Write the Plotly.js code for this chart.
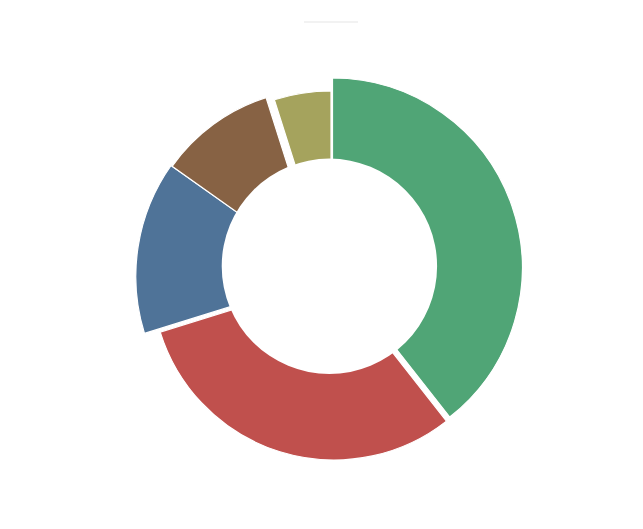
<!DOCTYPE html>
<html>
<head>
<meta charset="utf-8">
<script src="https://cdn.plot.ly/plotly-3.0.1.min.js"></script>
<style>html,body{margin:0;padding:0;background:#fff;}#chart{width:643px;height:529px;}</style>
</head>
<body>
<div id="chart"></div>
<script>
// ---- Data ----
var categories = ['A', 'B', 'C', 'D', 'E'];
var values = [39.4, 30.8, 14.6, 10.3, 4.9];

// ---- Styling (colours, per-slice offset centre and outer radius in px) ----
var colors = ['#50a576', '#c0504d', '#4f7398', '#876244', '#a5a35d'];
var sliceCenterX = [332.5, 334, 327.8, 321.5, 331];
var sliceCenterY = [267.8, 278, 276.4, 272, 278];
var sliceRadius = [189.8, 182, 192, 183, 187];
var holeCenter = [329.4, 266.3], holeRadius = 107.7;
var W = 643, H = 529, HALF = 200;

var total = values.reduce(function (a, b) { return a + b; }, 0);
var traces = [], acc = 0;
var layout = {
  width: W, height: H,
  margin: { l: 0, r: 0, t: 0, b: 0 },
  paper_bgcolor: '#ffffff',
  showlegend: false,
  shapes: [
    { type: 'circle', xref: 'paper', yref: 'paper', layer: 'above',
      x0: (holeCenter[0] - holeRadius) / W, x1: (holeCenter[0] + holeRadius) / W,
      y0: (H - holeCenter[1] - holeRadius) / H, y1: (H - holeCenter[1] + holeRadius) / H,
      fillcolor: '#ffffff', line: { width: 0 } },
    { type: 'line', xref: 'paper', yref: 'paper',
      x0: 304 / W, x1: 358 / W, y0: (H - 22) / H, y1: (H - 22) / H,
      line: { color: '#eeeeee', width: 1.5 } }
  ]
};

for (var i = 0; i < values.length; i++) {
  var span = values[i] / total * 360;
  var key = i === 0 ? 'polar' : 'polar' + (i + 1);
  traces.push({
    type: 'barpolar',
    subplot: key,
    r: [sliceRadius[i]],
    theta: [acc + span / 2],
    width: [span],
    text: [categories[i] + ': ' + values[i]],
    hoverinfo: 'text',
    marker: { color: colors[i], line: { color: '#ffffff', width: 1.2 } }
  });
  acc += span;
  var cx = sliceCenterX[i], cy = sliceCenterY[i];
  layout[key] = {
    domain: { x: [(cx - HALF) / W, (cx + HALF) / W], y: [(H - cy - HALF) / H, (H - cy + HALF) / H] },
    bgcolor: 'rgba(0,0,0,0)',
    radialaxis: { visible: false, range: [0, HALF] },
    angularaxis: { visible: false, rotation: 90, direction: 'clockwise' }
  };
}

Plotly.newPlot('chart', traces, layout, { displayModeBar: false, staticPlot: true });
</script>
</body>
</html>
